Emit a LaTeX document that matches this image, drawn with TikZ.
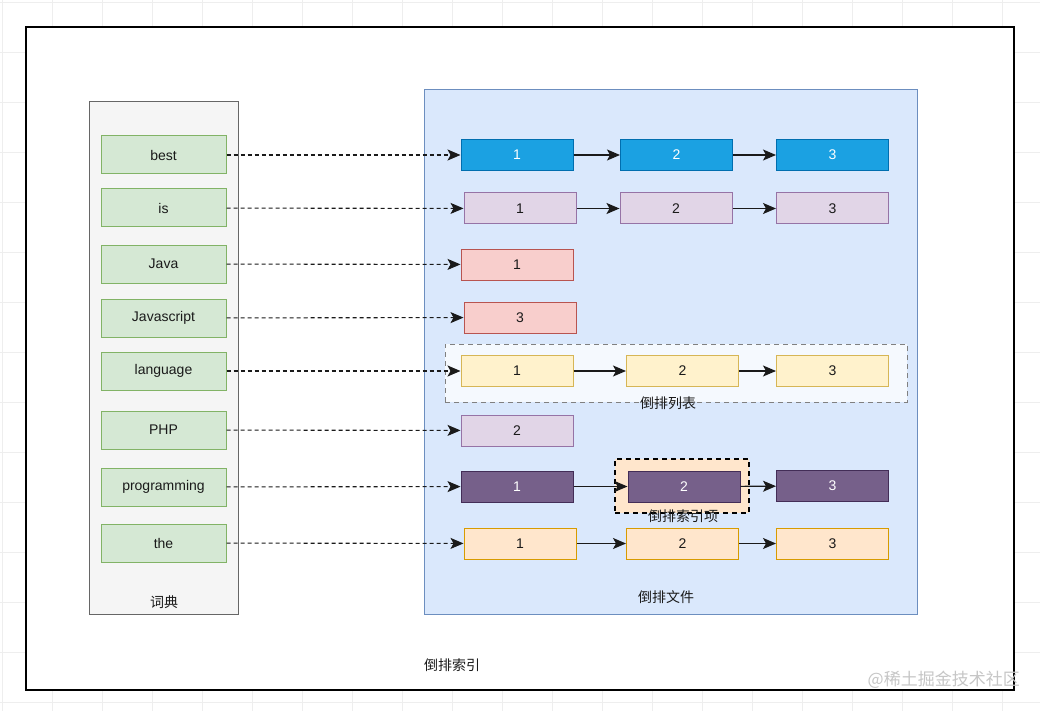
\documentclass[tikz,border=0pt]{standalone}
\usepackage{fontspec}
\setmainfont{Liberation Sans}
\newfontfamily\cjk{Noto Sans CJK SC}
\usetikzlibrary{arrows.meta}
\definecolor{gridc}{HTML}{EEEEEE}
\definecolor{dictfill}{HTML}{F5F5F5}
\definecolor{dictline}{HTML}{666666}
\definecolor{gfill}{HTML}{D5E8D4}
\definecolor{gline}{HTML}{82B366}
\definecolor{bfill}{HTML}{DAE8FC}
\definecolor{bline}{HTML}{6C8EBF}
\definecolor{cyfill}{HTML}{1BA1E2}
\definecolor{cyline}{HTML}{006EAF}
\definecolor{pfill}{HTML}{E1D5E7}
\definecolor{pline}{HTML}{9673A6}
\definecolor{rfill}{HTML}{F8CECC}
\definecolor{rline}{HTML}{B85450}
\definecolor{yfill}{HTML}{FFF2CC}
\definecolor{yline}{HTML}{D6B656}
\definecolor{dpfill}{HTML}{76608A}
\definecolor{dpline}{HTML}{432D57}
\definecolor{ofill}{HTML}{FFE6CC}
\definecolor{oline}{HTML}{D79B00}
\definecolor{txt}{HTML}{1A1A1A}
\tikzset{
  box/.style={draw, line width=1pt, minimum width=112pt, minimum height=31pt, inner sep=0pt, font=\fontsize{14}{16}\selectfont, text=txt},
  word/.style={box, fill=gfill, draw=gline, minimum width=125pt, minimum height=38pt},
  cyanbox/.style={box, fill=cyfill, draw=cyline, text=white},
  lilbox/.style={box, fill=pfill, draw=pline},
  redbox/.style={box, fill=rfill, draw=rline},
  yelbox/.style={box, fill=yfill, draw=yline},
  dpbox/.style={box, fill=dpfill, draw=dpline, text=white},
  orbox/.style={box, fill=ofill, draw=oline},
  lnk/.style={-{Stealth[length=13pt,width=11pt,inset=3pt]}, line width=1.1pt, draw=txt},
  ptr/.style={lnk, dash pattern=on 4pt off 3pt},
  cjklab/.style={font=\cjk\fontsize{14}{16}\selectfont, text=txt, inner sep=1pt},
}
\begin{document}
\begin{tikzpicture}[x=1pt,y=-1pt]
\useasboundingbox (0,0) rectangle (1040,711);
% background grid
\foreach \gx in {2,52,...,1040} \draw[gridc, line width=0.6pt] (\gx,0) -- (\gx,711);
\foreach \gy in {2,52,...,711} \draw[gridc, line width=0.6pt] (0,\gy) -- (1040,\gy);
% outer frame
\node[draw=black, fill=white, line width=1.5pt, minimum width=988pt, minimum height=663pt, inner sep=0pt] (frame) at (520,358.5) {};
% dictionary
\node[draw=dictline, fill=dictfill, line width=1pt, minimum width=149pt, minimum height=512pt, inner sep=0pt] (dict) at (163.5,358) {};
\node[cjklab] (dictlab) at (164,602) {词典};
% inverted file
\node[draw=bline, fill=bfill, line width=1pt, minimum width=493pt, minimum height=524pt, inner sep=0pt] (file) at (670.5,352) {};
\node[cjklab] (filelab) at (666,597) {倒排文件};
% posting list group
\node[draw=gray, dash pattern=on 5pt off 4pt, fill=white, fill opacity=0.75, line width=1pt, minimum width=462pt, minimum height=58pt, inner sep=0pt] (plist) at (676,373) {};
% posting item group
\node[draw=black, dash pattern=on 5pt off 4pt, fill=ofill, line width=1.2pt, minimum width=134pt, minimum height=54pt, inner sep=0pt] (pitem) at (682,486) {};
% words
\node[word] (w1) at (163.5,155) {best};
\node[word] (w2) at (163.5,208) {is};
\node[word] (w3) at (163.5,264) {Java};
\node[word] (w4) at (163.5,318) {Javascript};
\node[word] (w5) at (163.5,371) {language};
\node[word] (w6) at (163.5,430) {PHP};
\node[word] (w7) at (163.5,487) {programming};
\node[word] (w8) at (163.5,543) {the};
% postings
\node[cyanbox] (a1) at (517,155) {1};
\node[cyanbox] (a2) at (676.5,155) {2};
\node[cyanbox] (a3) at (832.5,155) {3};
\node[lilbox] (b1) at (520,208.5) {1};
\node[lilbox] (b2) at (676,208.5) {2};
\node[lilbox] (b3) at (832.5,208.5) {3};
\node[redbox] (c1) at (517,264.5) {1};
\node[redbox] (d1) at (520,317.5) {3};
\node[yelbox] (e1) at (517,371) {1};
\node[yelbox] (e2) at (682.5,371) {2};
\node[yelbox] (e3) at (832.5,371) {3};
\node[lilbox] (f1) at (517,430.5) {2};
\node[dpbox] (g1) at (517,486.5) {1};
\node[dpbox] (g2) at (684,486.5) {2};
\node[dpbox] (g3) at (832.5,486) {3};
\node[orbox] (h1) at (520,543.5) {1};
\node[orbox] (h2) at (682.5,543.5) {2};
\node[orbox] (h3) at (832.5,543.5) {3};
% labels of groups
\node[cjklab] (pllab) at (668,403) {倒排列表};
\node[cjklab] (pilab) at (683,516) {倒排索引项};
\node[cjklab] (idxlab) at (452,665) {倒排索引};
\node[font=\cjk\fontsize{17}{19}\selectfont, text=gray!45, anchor=east, inner sep=0pt] (wm) at (1020,680) {@稀土掘金技术社区};
% pointers
\draw[ptr] (w1) -- (a1);
\draw[ptr] (w2) -- (b1);
\draw[ptr] (w3) -- (c1);
\draw[ptr] (w4) -- (d1);
\draw[ptr] (w5) -- (e1);
\draw[ptr] (w6) -- (f1);
\draw[ptr] (w7) -- (g1);
\draw[ptr] (w8) -- (h1);
% links
\draw[lnk] (a1) -- (a2);
\draw[lnk] (a2) -- (a3);
\draw[lnk] (b1) -- (b2);
\draw[lnk] (b2) -- (b3);
\draw[lnk] (e1) -- (e2);
\draw[lnk] (e2) -- (e3);
\draw[lnk] (g1) -- (g2);
\draw[lnk] (g2) -- (g3);
\draw[lnk] (h1) -- (h2);
\draw[lnk] (h2) -- (h3);
\end{tikzpicture}
\end{document}
